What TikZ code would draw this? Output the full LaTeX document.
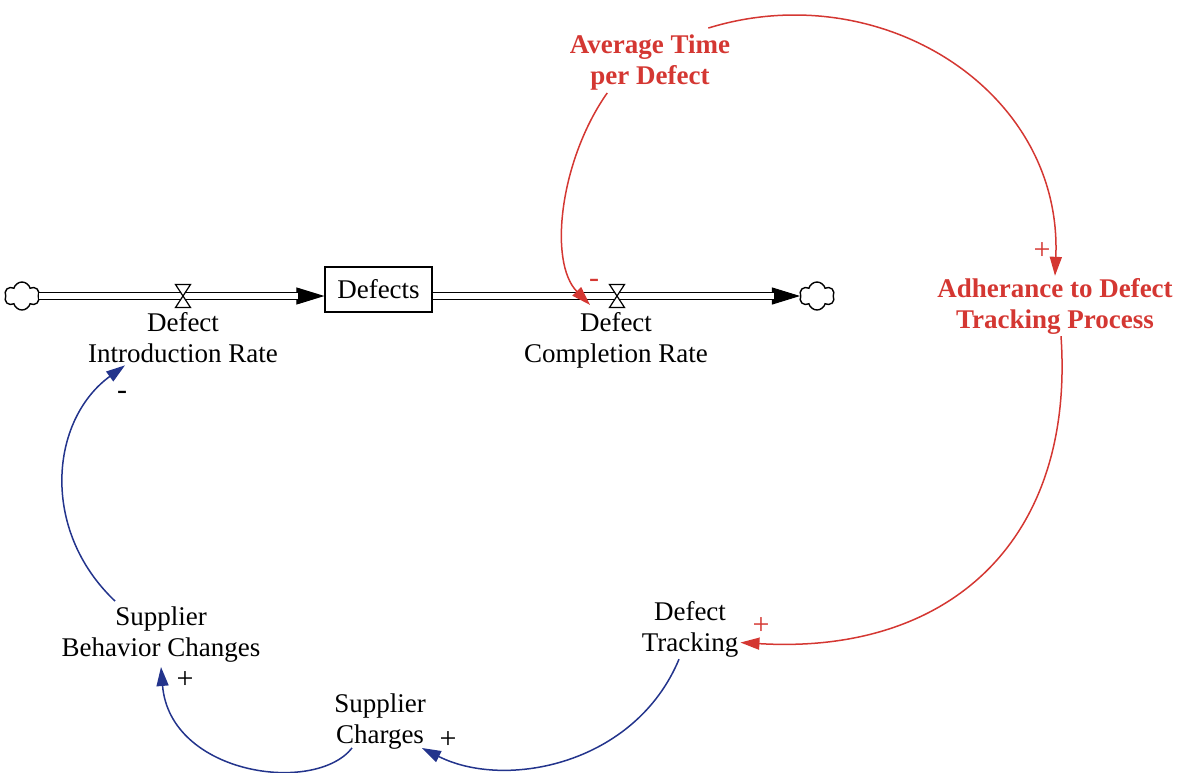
\documentclass[tikz,border=0pt]{standalone}
\usepackage{fontspec}
\setmainfont{Liberation Serif}
\usetikzlibrary{arrows.meta,shapes.symbols}
\definecolor{loopred}{RGB}{212,55,50}
\definecolor{loopblue}{RGB}{35,52,140}
\begin{document}
\begin{tikzpicture}[x=1pt,y=-1pt,
  every node/.style={font=\fontsize{27}{31}\selectfont},
  var/.style={align=center, inner sep=2pt},
  keyvar/.style={var, text=loopred, font=\fontsize{27}{31}\selectfont\bfseries},
  stock/.style={draw, line width=1.2pt, minimum width=107pt, minimum height=45pt, inner sep=0pt},
  source/.style={cloud, draw, cloud puffs=6, aspect=1.25, minimum width=35pt,
    minimum height=28pt, inner sep=0pt, line width=1.4pt},
  pipe/.style={draw, double, double distance=5.5pt, line width=1.4pt},
  pipetip/.style={line width=1pt, -{Triangle[length=28pt,width=17pt]}},
  valve/.style={draw, fill=white, line width=1.2pt},
  link/.style={line width=1.5pt, -{Triangle[length=19pt,width=12pt]}},
  redlink/.style={link, draw=loopred},
  bluelink/.style={link, draw=loopblue},
  pol/.style={font=\fontsize{30}{30}\selectfont, inner sep=0pt},
]
\useasboundingbox (0,0) rectangle (1181,772);

% stock, sources and sinks
\node[stock] (defects) at (378.5,289.5) {Defects};
\node[source] (cloudL) at (22,296) {};
\node[source] (cloudR) at (817,296) {};
\coordinate (vIn) at (183,296);
\coordinate (vOut) at (617,296);

% variables
\node[var] (labIn) at (183,338) {Defect\\Introduction Rate};
\node[var] (labOut) at (616,340) {Defect\\Completion Rate};
\node[keyvar] (avg) at (650,63) {Average Time\\per Defect};
\node[keyvar] (adh) at (1055,306) {Adherance to Defect\\Tracking Process};
\node[var] (trk) at (690,629) {Defect\\Tracking};
\node[var] (sch) at (380,722) {Supplier\\Charges};
\node[var] (sbc) at (161,635) {Supplier\\Behavior Changes};

% flow pipes
\draw[pipetip] (cloudL.east) -- (cloudL.east -| defects.west);
\draw[pipe, shorten >=26pt] (cloudL.east) -- (cloudL.east -| defects.west);
\draw[pipetip] (defects.east |- cloudR.west) -- (cloudR.west);
\draw[pipe, shorten >=26pt] (defects.east |- cloudR.west) -- (cloudR.west);

% valves
\draw[valve] (vIn) ++(-7.5,-11.5) -- ++(15,0) -- ++(-15,23) -- ++(15,0) -- cycle;
\draw[valve] (vOut) ++(-7.5,-11.5) -- ++(15,0) -- ++(-15,23) -- ++(15,0) -- cycle;

% causal links
\draw[redlink] ([shift={(-24pt,5pt)}]avg.north east) .. controls (880,-25) and (1063,90) .. (adh.north);
\draw[redlink] (avg.215) .. controls (560,160) and (548,262) .. ([shift={(-26pt,5pt)}]labOut.north);
\draw[redlink] ([xshift=6pt]adh.south) .. controls (1075,540) and (950,655) .. (trk.-15);
\draw[bluelink] (trk.-110) .. controls (635,765) and (505,790) .. ([shift={(-6pt,4pt)}]sch.south east);
\draw[bluelink] ([shift={(20pt,4pt)}]sch.south west) .. controls (315,795) and (170,775) .. ([yshift=-2pt]sbc.south);
\draw[bluelink] ([shift={(-46pt,4pt)}]sbc.north) .. controls (40,530) and (50,420) .. ([xshift=-58pt]labIn.south);

% link polarities
\node[pol, text=loopred] (s1) at (1042,251) {+};
\node[pol, text=loopred] (s2) at (594,283) {-};
\node[pol, text=loopred] (s3) at (761,626) {+};
\node[pol] (s4) at (448,740) {+};
\node[pol] (s5) at (185,680) {+};
\node[pol] (s6) at (122,395) {-};
\end{tikzpicture}
\end{document}
